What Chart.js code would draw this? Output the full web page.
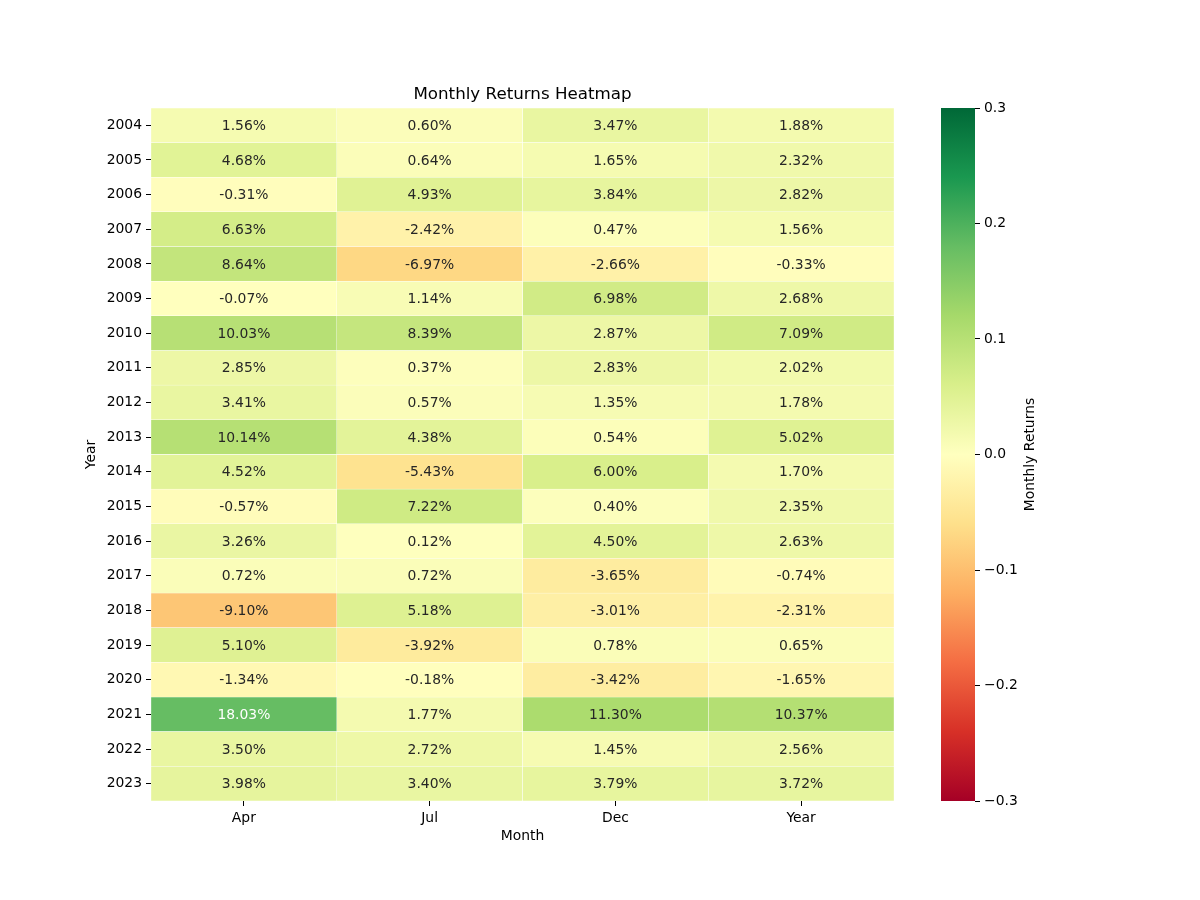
<!DOCTYPE html>
<html>
<head>
<meta charset="utf-8">
<script src="https://cdn.jsdelivr.net/npm/chart.js@4"></script>
<style>
    body { margin: 0; background: #fff; }
    #wrap { position: relative; width: 1200px; height: 900px; }
    #wrap canvas { position: absolute; top: 0; }
    #heat { left: 0; }
    #cbar { left: 900px; }
</style>
</head>
<body>
<div id="wrap">
    <canvas id="heat" width="1200" height="900"></canvas>
    <canvas id="cbar" width="300" height="900"></canvas>
</div>
<script>
// ── Data (percent) ───────────────────────────────────────────────────────────
const years = ['2004', '2005', '2006', '2007', '2008', '2009', '2010', '2011', '2012', '2013',
    '2014', '2015', '2016', '2017', '2018', '2019', '2020', '2021', '2022', '2023'];
const months = ['Apr', 'Jul', 'Dec', 'Year'];

const aprReturns = [1.56, 4.68, -0.31, 6.63, 8.64, -0.07, 10.03, 2.85, 3.41, 10.14,
    4.52, -0.57, 3.26, 0.72, -9.10, 5.10, -1.34, 18.03, 3.50, 3.98];
const julReturns = [0.60, 0.64, 4.93, -2.42, -6.97, 1.14, 8.39, 0.37, 0.57, 4.38,
    -5.43, 7.22, 0.12, 0.72, 5.18, -3.92, -0.18, 1.77, 2.72, 3.40];
const decReturns = [3.47, 1.65, 3.84, 0.47, -2.66, 6.98, 2.87, 2.83, 1.35, 0.54,
    6.00, 0.40, 4.50, -3.65, -3.01, 0.78, -3.42, 11.30, 1.45, 3.79];
const yearReturns = [1.88, 2.32, 2.82, 1.56, -0.33, 2.68, 7.09, 2.02, 1.78, 5.02,
    1.70, 2.35, 2.63, -0.74, -2.31, 0.65, -1.65, 10.37, 2.56, 3.72];

const columns = [aprReturns, julReturns, decReturns, yearReturns];
const cbarTicks = [-0.3, -0.2, -0.1, 0.0, 0.1, 0.2, 0.3];
const vmin = -0.3, vmax = 0.3;

// ── Colour map (RdYlGn) ──────────────────────────────────────────────────────
const RDYLGN = ['#a50026', '#d73027', '#f46d43', '#fdae61', '#fee08b', '#ffffbf',
    '#d9ef8b', '#a6d96a', '#66bd63', '#1a9850', '#006837'];

function hexToRgb(h) {
    return [parseInt(h.slice(1, 3), 16), parseInt(h.slice(3, 5), 16), parseInt(h.slice(5, 7), 16)];
}

function cmapRgb(v) {
    let t = (v - vmin) / (vmax - vmin);
    t = Math.max(0, Math.min(1, t));
    const pos = t * (RDYLGN.length - 1);
    const i = Math.min(Math.floor(pos), RDYLGN.length - 2);
    const f = pos - i;
    const a = hexToRgb(RDYLGN[i]), b = hexToRgb(RDYLGN[i + 1]);
    return a.map((c, k) => Math.round(c + (b[k] - c) * f));
}

function cmap(v) {
    const [r, g, b] = cmapRgb(v);
    return `rgb(${r},${g},${b})`;
}

function textColorFor(v) {
    const lum = cmapRgb(v).map(c => {
        c /= 255;
        return c <= 0.03928 ? c / 12.92 : Math.pow((c + 0.055) / 1.055, 2.4);
    });
    const l = lum[0] * 0.2126 + lum[1] * 0.7152 + lum[2] * 0.0722;
    return l > 0.408 ? '#262626' : '#ffffff';
}

const FONT = 'DejaVu Sans';

// ── Heatmap ──────────────────────────────────────────────────────────────────
const cellLabels = {
    id: 'cellLabels',
    afterDatasetsDraw(chart) {
        const ctx = chart.ctx;
        ctx.save();
        ctx.font = `13.9px "${FONT}"`;
        ctx.textAlign = 'center';
        ctx.textBaseline = 'middle';
        chart.data.datasets.forEach((ds, di) => {
            chart.getDatasetMeta(di).data.forEach((bar, ri) => {
                const v = columns[di][ri];
                ctx.fillStyle = textColorFor(v / 100);
                ctx.fillText(v.toFixed(2) + '%', (bar.x + bar.base) / 2, bar.y + 1);
            });
        });
        // chart title
        ctx.fillStyle = '#000';
        ctx.font = `16.7px "${FONT}"`;
        ctx.fillText('Monthly Returns Heatmap', (chart.chartArea.left + chart.chartArea.right) / 2, 95);
        ctx.restore();
    }
};

new Chart(document.getElementById('heat'), {
    type: 'bar',
    data: {
        labels: years,
        datasets: columns.map((col, c) => ({
            label: months[c],
            data: col.map(() => [c, c + 1]),
            backgroundColor: col.map(v => cmap(v / 100)),
            borderColor: '#ffffff',
            borderWidth: 0.5,
            borderSkipped: false,
            grouped: false,
            barPercentage: 1,
            categoryPercentage: 1
        }))
    },
    plugins: [cellLabels],
    options: {
        indexAxis: 'y',
        responsive: false,
        animation: false,
        layout: { padding: { left: 0, top: 108, right: 306, bottom: 0 } },
        plugins: { legend: { display: false }, tooltip: { enabled: false } },
        scales: {
            x: {
                type: 'linear',
                min: 0,
                max: months.length,
                afterBuildTicks: s => { s.ticks = months.map((m, i) => ({ value: i + 0.5 })); },
                afterFit: s => { s.height = 99; },
                grid: { drawOnChartArea: false, tickLength: 5, color: '#000', tickWidth: 1 },
                border: { display: false },
                ticks: {
                    color: '#000', padding: 4, maxRotation: 0, autoSkip: false,
                    font: { family: FONT, size: 13.9 },
                    callback: (v, i) => months[i]
                },
                title: {
                    display: true, text: 'Month', color: '#000',
                    font: { family: FONT, size: 13.9 },
                    padding: { top: 0, bottom: 55 }
                }
            },
            y: {
                afterFit: s => { s.width = 151; },
                grid: { drawOnChartArea: false, offset: false, tickLength: 5, color: '#000', tickWidth: 1 },
                border: { display: false },
                ticks: { color: '#000', padding: 4, autoSkip: false, font: { family: FONT, size: 13.9 } },
                title: {
                    display: true, text: 'Year', color: '#000',
                    font: { family: FONT, size: 13.9 },
                    padding: { top: 83, bottom: 0 }
                }
            }
        }
    }
});

// ── Colour bar ───────────────────────────────────────────────────────────────
const cbarLabel = {
    id: 'cbarLabel',
    afterDraw(chart) {
        const ctx = chart.ctx;
        const a = chart.chartArea;
        ctx.save();
        ctx.translate(130, (a.top + a.bottom) / 2);
        ctx.rotate(-Math.PI / 2);
        ctx.font = `13.9px "${FONT}"`;
        ctx.fillStyle = '#000';
        ctx.textAlign = 'center';
        ctx.textBaseline = 'middle';
        ctx.fillText('Monthly Returns', 0, 0);
        ctx.restore();
    }
};

new Chart(document.getElementById('cbar'), {
    type: 'bar',
    data: {
        labels: [''],
        datasets: [{
            data: [[vmin, vmax]],
            backgroundColor: ctx => {
                const a = ctx.chart.chartArea;
                if (!a) return '#ffffbf';
                const g = ctx.chart.ctx.createLinearGradient(0, a.bottom, 0, a.top);
                RDYLGN.forEach((c, i) => g.addColorStop(i / (RDYLGN.length - 1), c));
                return g;
            },
            borderWidth: 0,
            barPercentage: 1,
            categoryPercentage: 1
        }]
    },
    plugins: [cbarLabel],
    options: {
        responsive: false,
        animation: false,
        layout: { padding: { left: 41, top: 108, right: 165, bottom: 99 } },
        plugins: { legend: { display: false }, tooltip: { enabled: false } },
        scales: {
            x: { display: false },
            y: {
                position: 'right',
                min: vmin,
                max: vmax,
                afterBuildTicks: s => { s.ticks = cbarTicks.map(v => ({ value: v })); },
                afterFit: s => { s.width = 60; },
                grid: { drawOnChartArea: false, tickLength: 5, color: '#000', tickWidth: 1 },
                border: { display: false },
                ticks: {
                    color: '#000', padding: 4,
                    font: { family: FONT, size: 13.9 },
                    callback: v => {
                        const s = Math.abs(v) < 1e-9 ? '0.0' : v.toFixed(1);
                        return s.replace('-', '\u2212');
                    }
                }
            }
        }
    }
});
</script>
</body>
</html>
